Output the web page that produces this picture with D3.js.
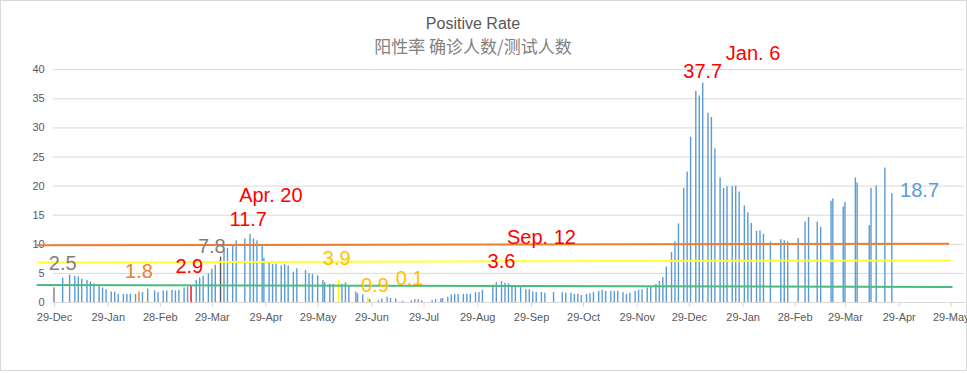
<!DOCTYPE html>
<html>
<head>
<meta charset="utf-8">
<script src="https://d3js.org/d3.v7.min.js"></script>
<style>
  body { margin: 0; background: #fff; }
  svg { display: block; }
</style>
</head>
<body>
<svg width="967" height="373"></svg>
<script>

// positive rate (%) by test date
const dates = [
  "2019-12-29",
  "2020-01-03","2020-01-07","2020-01-10","2020-01-12","2020-01-14","2020-01-17","2020-01-19","2020-01-21","2020-01-24","2020-01-26","2020-01-28","2020-01-31",
  "2020-02-02","2020-02-04","2020-02-07","2020-02-09","2020-02-11","2020-02-14","2020-02-16","2020-02-18","2020-02-21","2020-02-25","2020-02-27",
  "2020-03-01","2020-03-03","2020-03-06","2020-03-08","2020-03-10","2020-03-13","2020-03-15","2020-03-17","2020-03-20","2020-03-22","2020-03-24","2020-03-27","2020-03-29","2020-03-31",
  "2020-04-03","2020-04-05","2020-04-07","2020-04-10","2020-04-12","2020-04-17","2020-04-20","2020-04-22","2020-04-24","2020-04-27","2020-04-28",
  "2020-05-01","2020-05-03","2020-05-05","2020-05-08","2020-05-10","2020-05-12","2020-05-15","2020-05-17","2020-05-22","2020-05-24","2020-05-26","2020-05-29",
  "2020-06-01","2020-06-02","2020-06-05","2020-06-07","2020-06-10","2020-06-12","2020-06-14","2020-06-16","2020-06-20","2020-06-21","2020-06-24","2020-06-27","2020-06-28",
  "2020-07-03","2020-07-05","2020-07-08","2020-07-10","2020-07-13","2020-07-15","2020-07-17","2020-07-22","2020-07-24","2020-07-26","2020-07-28",
  "2020-08-03","2020-08-05","2020-08-08","2020-08-09","2020-08-12","2020-08-14","2020-08-16","2020-08-18","2020-08-21","2020-08-23","2020-08-25","2020-08-28","2020-08-30",
  "2020-09-01","2020-09-07","2020-09-09","2020-09-12","2020-09-14","2020-09-16","2020-09-18","2020-09-20","2020-09-23","2020-09-26","2020-09-28","2020-09-30",
  "2020-10-02","2020-10-05","2020-10-07","2020-10-12","2020-10-17","2020-10-19","2020-10-22","2020-10-24","2020-10-26","2020-10-28","2020-10-31",
  "2020-11-02","2020-11-04","2020-11-07","2020-11-09","2020-11-11","2020-11-14","2020-11-16","2020-11-18","2020-11-21","2020-11-23","2020-11-25","2020-11-28","2020-11-30",
  "2020-12-02","2020-12-05","2020-12-07","2020-12-10","2020-12-12","2020-12-14","2020-12-16","2020-12-19","2020-12-21","2020-12-23","2020-12-26","2020-12-28","2020-12-30",
  "2021-01-02","2021-01-04","2021-01-06","2021-01-09","2021-01-11","2021-01-13","2021-01-16","2021-01-18","2021-01-20","2021-01-23","2021-01-25","2021-01-27","2021-01-30",
  "2021-02-01","2021-02-03","2021-02-06","2021-02-08","2021-02-10","2021-02-14","2021-02-20","2021-02-22","2021-02-24",
  "2021-03-02","2021-03-06","2021-03-08","2021-03-13","2021-03-15","2021-03-21","2021-03-22","2021-03-28","2021-03-29",
  "2021-04-04","2021-04-05","2021-04-12","2021-04-13","2021-04-16","2021-04-21","2021-04-25"
];

const rates = [
  2.5,
  4.2, 4.7, 4.5, 4.4, 4.0, 3.8, 3.5, 3.2, 3.0, 2.5, 2.2, 1.8,
  1.8, 1.4, 1.4, 1.4, 1.4, 1.4, 1.8, 1.7, 2.3, 2.0, 1.7,
  2.0, 2.0, 2.1, 2.0, 2.1, 2.5, 2.6, 2.9, 3.8, 4.2, 4.5, 4.9, 5.7, 6.4,
  7.8, 9.1, 9.3, 9.8, 10.6, 10.9, 11.7, 10.9, 10.6, 9.8, 7.6,
  6.9, 6.5, 6.6, 6.3, 6.5, 6.3, 5.2, 5.8, 5.5, 5.0, 4.8, 4.6,
  3.8, 3.4, 3.1, 3.1, 3.9, 3.1, 3.4, 2.8, 1.8, 1.5, 1.3, 0.9, 0.5,
  0.3, 0.6, 0.9, 0.7, 0.6, 0.1, 0.2, 0.3, 0.5, 0.5, 0.3,
  0.3, 0.5, 0.6, 0.7, 0.9, 1.3, 1.4, 1.4, 1.4, 1.4, 1.4, 1.7, 1.7,
  2.1, 3.0, 3.4, 3.6, 3.3, 3.2, 2.9, 2.9, 2.7, 2.2, 2.2, 1.8,
  1.7, 1.7, 1.6, 1.7, 1.7, 1.6, 1.6, 1.4, 1.4, 1.2, 1.4,
  1.5, 1.7, 1.9, 2.1, 1.9, 1.9, 1.9, 1.9, 1.7, 1.4, 1.6, 1.9, 2.1,
  2.2, 2.5, 2.7, 3.1, 3.6, 4.3, 6.1, 8.6, 10.4, 13.5, 19.6, 22.4, 28.4,
  36.3, 35.5, 37.7, 32.5, 31.8, 26.4, 21.4, 19.6, 19.9, 19.9, 20.0, 19.0, 16.6,
  15.4, 13.6, 12.2, 12.3, 11.7, 10.4, 10.8, 10.6, 10.4,
  11.0, 13.8, 14.6, 13.8, 12.9, 17.4, 17.8, 16.4, 17.2,
  21.4, 20.5, 13.2, 19.6, 20.0, 23.1, 18.7
];

// bars picked out in another colour
const markedDates  = ["2019-12-29", "2020-02-16", "2020-03-17", "2020-04-03", "2020-06-10", "2020-06-27", "2020-07-15"];
const markedColors = ["#7f7f7f",    "#ed7d31",    "#ff0000",    "#595959",    "#ffff00",    "#ffe000",    "#ffe000"];

const tickDates = [
  "2019-12-29","2020-01-29","2020-02-28","2020-03-29","2020-04-29","2020-05-29","2020-06-29",
  "2020-07-29","2020-08-29","2020-09-29","2020-10-29","2020-11-29","2020-12-29",
  "2021-01-29","2021-02-28","2021-03-29","2021-04-29","2021-05-29"
];
const yTicks = [0, 5, 10, 15, 20, 25, 30, 35, 40];

// hand-drawn level lines: start/end date, value at each end
const levelLines = [
  { color: "#ed7d31", from: "2019-12-19", to: "2021-05-28", v0: 9.75, v1: 10.02 },
  { color: "#ffff33", from: "2019-12-19", to: "2021-05-29", v0: 6.8,  v1: 7.15 },
  { color: "#4cbb7f", from: "2019-12-19", to: "2021-05-30", v0: 2.92, v1: 2.58 }
];

// callouts: text, anchor date, anchor value (baseline)
const noteTexts  = ["2.5", "1.8", "2.9", "7.8", "11.7", "Apr. 20", "3.9", "0.9", "0.1", "3.6", "Sep. 12", "37.7", "Jan. 6", "18.7"];
const noteDates  = ["2020-01-03","2020-02-16","2020-03-16","2020-03-29","2020-04-19","2020-05-02","2020-06-09","2020-07-01","2020-07-21","2020-09-12","2020-10-05","2021-01-06","2021-02-04","2021-05-11"];
const noteValues = [5.5, 4.1, 4.9, 8.5, 13.1, 17.2, 6.35, 1.65, 2.9, 5.9, 9.95, 38.5, 41.55, 18.1];
const noteColors = ["#7f7f7f","#ed7d31","#ff0000","#7f7f7f","#ff0000","#ff0000","#ffc000","#ffc000","#ffc000","#ff0000","#ff0000","#ff0000","#ff0000","#5b9bd5"];

const FONT = "'Liberation Sans', Arial, sans-serif";
const parse = d3.timeParse("%Y-%m-%d");

function drawChart() {
    const svg = d3.select("svg");

    // chart frame
    svg.append("rect")
       .attr("x", 0.5).attr("y", 0.5).attr("width", 966).attr("height", 370)
       .attr("fill", "#fff").attr("stroke", "#d9d9d9");

    const x = d3.scaleTime()
        .domain([new Date(2019, 11, 28, 6), new Date(2021, 5, 5, 19)])
        .range([52.7, 964.3]);
    const y = d3.scaleLinear().domain([0, 40]).range([302, 69.2]);

    // gridlines + y labels
    const gy = svg.append("g")
        .attr("transform", "translate(52.7,0)")
        .call(d3.axisLeft(y).tickValues(yTicks).tickSize(-(964.3 - 52.7)).tickPadding(8));
    gy.select(".domain").remove();
    gy.selectAll("line").attr("stroke", "#d9d9d9");
    gy.selectAll("text")
      .attr("fill", "#595959").attr("font-family", FONT).attr("font-size", 11);

    // x axis
    const gx = svg.append("g")
        .attr("transform", "translate(0,302)")
        .call(d3.axisBottom(x)
                .tickValues(tickDates.map(parse))
                .tickFormat(d3.timeFormat("%-d-%b"))
                .tickSize(5).tickSizeOuter(0).tickPadding(6));
    gx.select(".domain").attr("stroke", "#d9d9d9");
    gx.selectAll("line").attr("stroke", "#d9d9d9");
    gx.selectAll("text")
      .attr("fill", "#595959").attr("font-family", FONT).attr("font-size", 11);

    // bars
    const rows = dates.map((d, i) => ({ date: parse(d), key: d, rate: rates[i] }));
    svg.append("g").selectAll("rect")
       .data(rows)
       .enter().append("rect")
       .attr("x", d => x(d.date) - 0.7)
       .attr("width", 1.4)
       .attr("y", d => y(d.rate))
       .attr("height", d => y(0) - y(d.rate))
       .attr("fill", d => {
           const k = markedDates.indexOf(d.key);
           return k >= 0 ? markedColors[k] : "#5b9bd5";
       });

    // level lines
    svg.append("g").selectAll("line")
       .data(levelLines)
       .enter().append("line")
       .attr("x1", d => x(parse(d.from))).attr("x2", d => x(parse(d.to)))
       .attr("y1", d => y(d.v0)).attr("y2", d => y(d.v1))
       .attr("stroke", d => d.color).attr("stroke-width", 2);

    // callouts
    svg.append("g").selectAll("text")
       .data(noteTexts)
       .enter().append("text")
       .attr("x", (d, i) => x(parse(noteDates[i])))
       .attr("y", (d, i) => y(noteValues[i]))
       .attr("text-anchor", "middle")
       .attr("font-family", FONT).attr("font-size", 20)
       .attr("fill", (d, i) => noteColors[i])
       .text(d => d);

    // titles
    svg.append("text")
       .attr("x", 473).attr("y", 29).attr("text-anchor", "middle")
       .attr("font-family", FONT).attr("font-size", 16).attr("fill", "#595959")
       .text("Positive Rate");
    svg.append("text")
       .attr("x", 473).attr("y", 53).attr("text-anchor", "middle")
       .attr("font-family", "'Noto Sans CJK SC', sans-serif").attr("font-size", 17).attr("fill", "#808080")
       .text("阳性率 确诊人数/测试人数");
}

drawChart();
</script>
</body>
</html>
